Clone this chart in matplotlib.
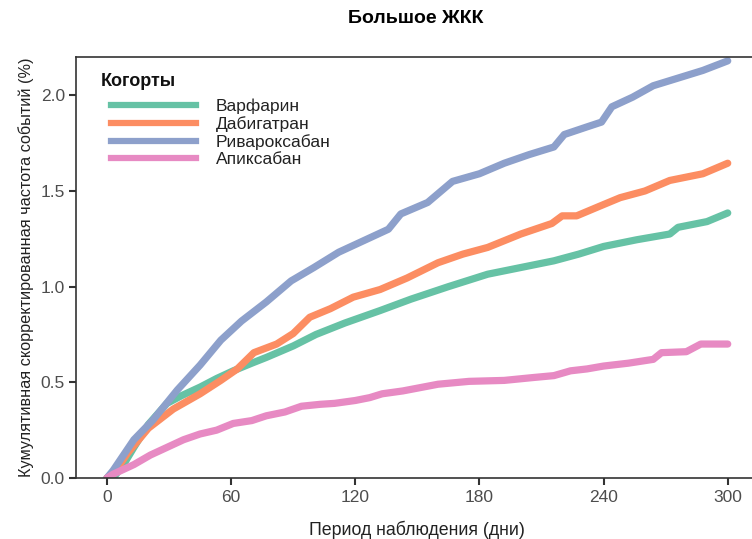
import matplotlib
matplotlib.use("Agg")
import matplotlib.pyplot as plt
from matplotlib.lines import Line2D

plt.rcParams['font.family'] = ['Liberation Sans', 'DejaVu Sans']

# Cumulative adjusted event rate (%) by follow-up day
warfarin_days = [0, 3, 8, 13, 20, 29, 36, 45, 53, 61, 70, 77, 90, 101, 115, 132, 147, 165, 184, 200, 216, 228, 240, 256, 272, 276, 290, 300]
warfarin_vals = [0.0, 0.0, 0.07, 0.16, 0.28, 0.39, 0.43, 0.475, 0.52, 0.56, 0.60, 0.63, 0.69, 0.75, 0.81, 0.875, 0.935, 1.00, 1.065, 1.10, 1.135, 1.17, 1.21, 1.245, 1.275, 1.31, 1.34, 1.385]

dabigatran_days = [0, 3, 10, 20, 32, 45, 55, 63, 71, 82, 90, 98, 108, 119, 132, 145, 160, 172, 184, 200, 215, 220, 227, 238, 248, 260, 272, 288, 300]
dabigatran_vals = [0.0, 0.02, 0.13, 0.26, 0.36, 0.44, 0.51, 0.57, 0.655, 0.70, 0.755, 0.84, 0.885, 0.945, 0.985, 1.045, 1.125, 1.17, 1.205, 1.275, 1.33, 1.37, 1.37, 1.42, 1.465, 1.50, 1.555, 1.59, 1.645]

rivaroxaban_days = [0, 3, 8, 13, 22, 34, 45, 55, 65, 77, 89, 100, 112, 127, 136, 142, 155, 167, 180, 192, 204, 216, 221, 232, 239, 244, 254, 264, 276, 288, 300]
rivaroxaban_vals = [0.0, 0.04, 0.12, 0.20, 0.30, 0.46, 0.59, 0.72, 0.82, 0.92, 1.03, 1.10, 1.18, 1.255, 1.30, 1.38, 1.44, 1.55, 1.59, 1.645, 1.69, 1.73, 1.795, 1.835, 1.86, 1.94, 1.99, 2.05, 2.09, 2.13, 2.18]

apixaban_days = [0, 3, 7, 13, 21, 29, 37, 45, 53, 61, 70, 77, 86, 94, 103, 110, 120, 127, 133, 143, 160, 175, 192, 206, 216, 224, 232, 240, 252, 264, 268, 280, 287, 300]
apixaban_vals = [0.0, 0.02, 0.04, 0.07, 0.12, 0.16, 0.20, 0.23, 0.25, 0.285, 0.30, 0.325, 0.345, 0.375, 0.385, 0.39, 0.405, 0.42, 0.44, 0.455, 0.49, 0.505, 0.51, 0.525, 0.535, 0.56, 0.57, 0.585, 0.60, 0.62, 0.655, 0.66, 0.70, 0.70]

series = [
    ("Варфарин", warfarin_days, warfarin_vals, "#66c2a5"),
    ("Дабигатран", dabigatran_days, dabigatran_vals, "#fc8d62"),
    ("Ривароксабан", rivaroxaban_days, rivaroxaban_vals, "#8da0cb"),
    ("Апиксабан", apixaban_days, apixaban_vals, "#e78ac3"),
]

x_ticks = [0, 60, 120, 180, 240, 300]
y_ticks = [0.0, 0.5, 1.0, 1.5, 2.0]

fig = plt.figure(figsize=(7.52, 5.39), dpi=100)
ax = fig.add_axes([0.101, 0.1132, 0.908, 0.781])

for name, d, v, c in series:
    ax.plot(d, v, color=c, lw=5.2, solid_capstyle='round', solid_joinstyle='round')

ax.set_xlim(-15, 315)
ax.set_ylim(0, 2.2)
ax.set_xticks(x_ticks)
ax.set_yticks(y_ticks)
ax.set_yticklabels([f"{t:.1f}" for t in y_ticks])

for s in ax.spines.values():
    s.set_color("#333333")
    s.set_linewidth(1.2)
ax.spines['right'].set_visible(False)
ax.tick_params(axis='both', colors="#333333", labelcolor="#4d4d4d", labelsize=12.5,
               length=5, width=1.5, direction='out')
ax.tick_params(axis='x', pad=4)
ax.tick_params(axis='y', pad=3)

ax.set_xlabel("Период наблюдения (дни)", fontsize=12.8, color="#222222", labelpad=11)
ax.set_ylabel("Кумулятивная скорректированная частота событий (%)", fontsize=11.7,
              color="#222222", labelpad=5)
fig.suptitle("Большое ЖКК", fontsize=14, fontweight='bold', x=0.553, y=0.965, va='center')

# legend: entries and a left-aligned bold heading
handles = [Line2D([], [], color=c, lw=4.5) for _, _, _, c in series]
labels = [name for name, _, _, _ in series]
leg = ax.legend(handles, labels, loc='upper left', bbox_to_anchor=(0.052, 0.902),
                frameon=False, fontsize=12.5, handlelength=4.85, handletextpad=1.15,
                labelspacing=0.13, borderaxespad=0.0, borderpad=0.0)
for t in leg.get_texts():
    t.set_color("#222222")
ax.text(0.036, 0.942, "Когорты", transform=ax.transAxes, fontsize=13,
        fontweight='bold', color="#111111", ha='left', va='center')

fig.savefig("out.png", dpi=100)
